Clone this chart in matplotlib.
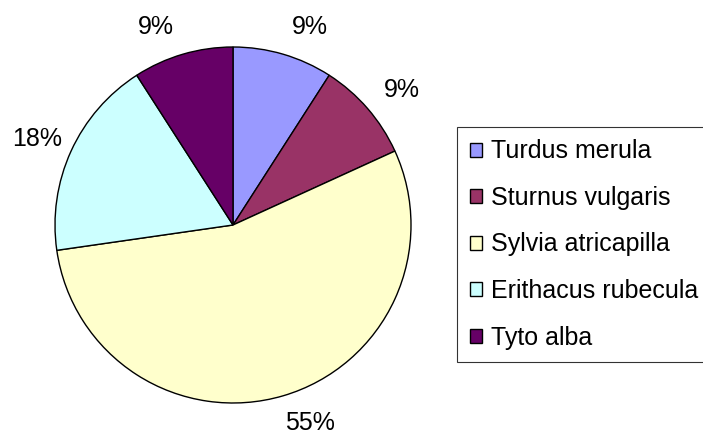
import matplotlib.pyplot as plt
import numpy as np

plt.rcParams['font.family'] = ['Liberation Sans', 'DejaVu Sans']

species = ['Turdus merula', 'Sturnus vulgaris', 'Sylvia atricapilla',
           'Erithacus rubecula', 'Tyto alba']
counts = [1, 1, 6, 2, 1]
colors = ['#9999FF', '#993366', '#FFFFCC', '#CCFFFF', '#660066']

W, H = 703, 434
fig = plt.figure(figsize=(W / 100, H / 100), dpi=100)

# pie area: centre (233, 225), radius 178 px
cx, cy, r = 233, 225, 178
ax = fig.add_axes([(cx - r) / W, (H - cy - r) / H, 2 * r / W, 2 * r / H])

wedges, texts, autotexts = ax.pie(
    counts, colors=colors, startangle=90, counterclock=False,
    autopct='%1.0f%%', pctdistance=1.16,
    wedgeprops=dict(edgecolor='black', linewidth=1.0),
    textprops=dict(fontsize=18, color='black'))

# push labels sideways a bit, like Excel does
for t in autotexts:
    x, y = t.get_position()
    d = np.hypot(x, y)
    t.set_position((x + np.sign(x) * 0.11 * abs(y) / d, y))

ax.set_xlim(-1, 1)
ax.set_ylim(-1, 1)
ax.set_aspect('equal')

# legend box runs past the right edge, as in the original
leg = fig.legend(wedges, species, loc='upper left', mode='expand',
                 bbox_to_anchor=(457 / W, 1 - 127 / H, 270 / W, 0),
                 fontsize=18, frameon=True, fancybox=False, shadow=False,
                 handlelength=0.5, handleheight=0.5, handletextpad=0.35,
                 labelspacing=0.9, borderpad=0.5, borderaxespad=0)
leg.get_frame().set_edgecolor('black')
leg.get_frame().set_linewidth(0.8)

plt.savefig('out.png', dpi=100)
